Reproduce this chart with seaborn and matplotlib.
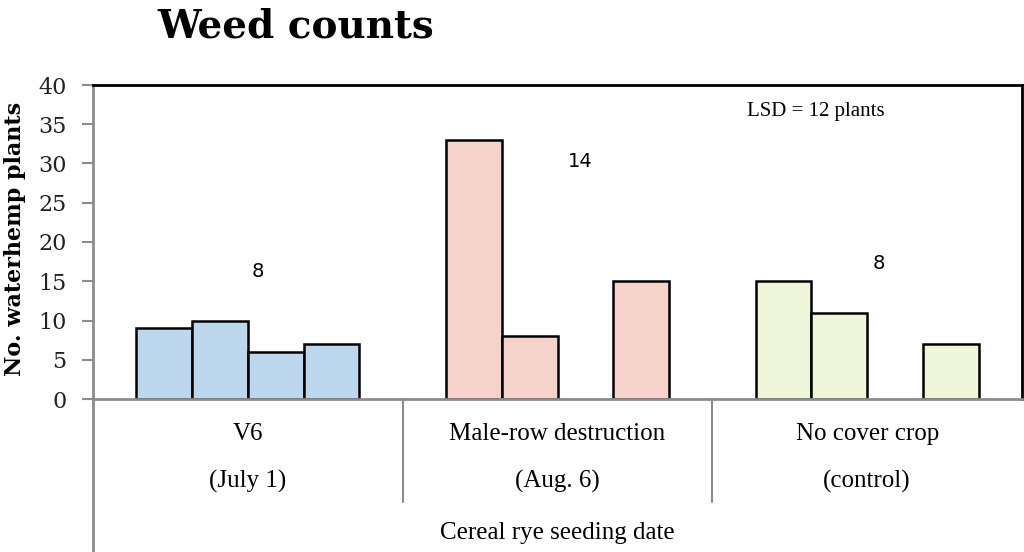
import matplotlib
matplotlib.use("Agg")
import matplotlib.pyplot as plt
import seaborn as sns
import pandas as pd
import numpy as np

groups = ["V6", "Male-row destruction", "No cover crop"]
group_sub = ["(July 1)", "(Aug. 6)", "(control)"]
slots = ["a", "b", "c", "d"]
v6_vals = [9, 10, 6, 7]
male_vals = [33, 8, np.nan, 15]
nocover_vals = [15, 11, np.nan, 7]
group_colors = ["#BDD7EE", "#F5D2CA", "#EFF5D8"]
lsd_labels = ["8", "14", "8"]
lsd_y = [16.2, 30.2, 17.2]
lsd_x_off = [0.032, 0.074, 0.039]

rows = []
for g, vals in zip(groups, [v6_vals, male_vals, nocover_vals]):
    for s, v in zip(slots, vals):
        rows.append({"group": g, "slot": s, "value": v})
df = pd.DataFrame(rows)

sns.set_style("white")
plt.rcParams["text.color"] = "black"
fig = plt.figure(figsize=(10.24, 5.52), dpi=100)
ax = fig.add_axes([93/1024, 1 - 399/552, (1022-93)/1024, (399-85)/552])

sns.barplot(data=df, x="group", y="value", hue="slot", order=groups,
            hue_order=slots, width=0.72, ax=ax, legend=False,
            edgecolor="black", linewidth=1.8, saturation=1)

# recolor by group
for patch in ax.patches:
    cx = patch.get_x() + patch.get_width() / 2
    gi = int(round(cx))
    if 0 <= gi < 3:
        patch.set_facecolor(group_colors[gi])

ax.set_xlim(-0.5, 2.5)
ax.set_ylim(0, 40)
ax.set_yticks(range(0, 41, 5))
ax.tick_params(axis="y", direction="out", length=8, width=1.5, color="#8c8c8c",
               labelsize=16, pad=11, left=True, labelcolor="#222222")
for lab in ax.get_yticklabels():
    lab.set_family("DejaVu Serif")
    lab.set_fontsize(16)
ax.set_xticks([])
ax.set_xlabel("")
ax.set_ylabel("")
fig.text(15/1024, 1 - 239/552, "No. waterhemp plants", rotation=90,
         ha="center", va="center", fontsize=16, fontweight="bold",
         family="DejaVu Serif", color="black")

for side in ["top", "right"]:
    ax.spines[side].set_visible(True)
    ax.spines[side].set_color("black")
    ax.spines[side].set_linewidth(2)
for side in ["left", "bottom"]:
    ax.spines[side].set_color("#8c8c8c")
    ax.spines[side].set_linewidth(2)

ax_h = 399 - 85
# extended left spine and separators
ax.plot([0, 0], [0, -(552 - 399) / ax_h], transform=ax.transAxes,
        color="#8c8c8c", lw=2, clip_on=False)
for xs in [0.5, 1.5]:
    ax.plot([xs, xs], [0, -40 * (502 - 399) / ax_h], color="#8c8c8c",
            lw=1.5, clip_on=False)

for i, (g, s) in enumerate(zip(groups, group_sub)):
    ax.text(i, -40 * (434 - 399) / ax_h, g, ha="center", va="center",
            fontsize=18, family="Liberation Serif")
    ax.text(i, -40 * (481 - 399) / ax_h, s, ha="center", va="center",
            fontsize=18, family="Liberation Serif")
ax.text(1, -40 * (533 - 399) / ax_h, "Cereal rye seeding date", ha="center",
        va="center", fontsize=18, family="Liberation Serif")

for i, (lab, yy, xo) in enumerate(zip(lsd_labels, lsd_y, lsd_x_off)):
    ax.text(i + xo, yy, lab, ha="center", va="center", fontsize=14)
ax.text(1.835, 36.6, "LSD = 12 plants", ha="center", va="center", fontsize=15,
        family="Liberation Serif")

fig.text(157/1024, 1 - 38/552, "Weed counts", ha="left", va="baseline",
         fontsize=28, fontweight="bold", family="DejaVu Serif", color="black")

fig.savefig("out.png", dpi=100)
